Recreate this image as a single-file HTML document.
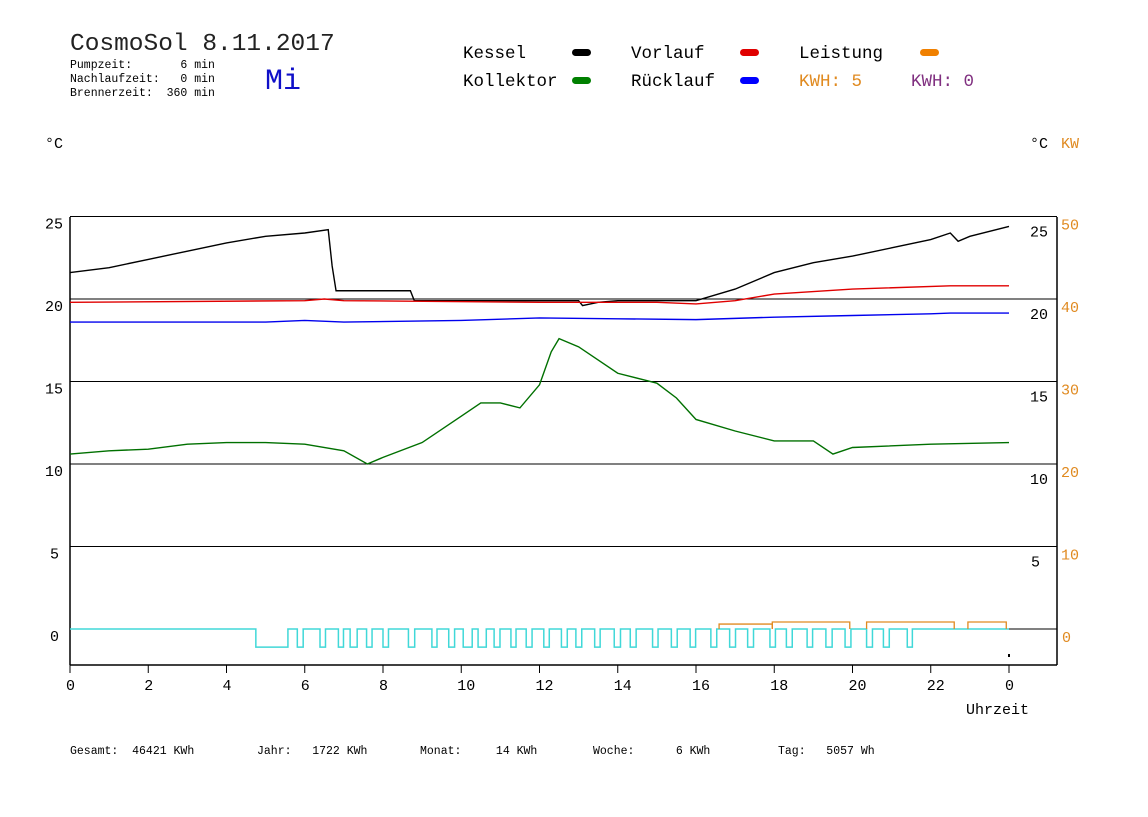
<!DOCTYPE html>
<html><head><meta charset="utf-8"><style>
body{margin:0;background:#fff;}
svg text{font-family:"Liberation Mono",monospace;white-space:pre;}
</style></head><body>
<svg id="c" width="1148" height="812" viewBox="0 0 1148 812" xml:space="preserve">
<text x="70" y="50" font-size="24.5" fill="#222">CosmoSol 8.11.2017</text>
<g font-size="11.5" fill="#000">
<text x="70" y="68">Pumpzeit:       6 min</text>
<text x="70" y="82">Nachlaufzeit:   0 min</text>
<text x="70" y="96">Brennerzeit:  360 min</text>
</g>
<text x="265" y="89" font-size="30" fill="#1010c8">Mi</text>
<g font-size="17.5">
<text x="463" y="58">Kessel</text>
<rect x="572" y="49" width="19" height="7" rx="3.5" fill="#000"/>
<text x="631" y="58">Vorlauf</text>
<rect x="740" y="49" width="19" height="7" rx="3.5" fill="#e00000"/>
<text x="799" y="58">Leistung</text>
<rect x="920" y="49" width="19" height="7" rx="3.5" fill="#f08000"/>
<text x="463" y="86">Kollektor</text>
<rect x="572" y="77" width="19" height="7" rx="3.5" fill="#008000"/>
<text x="631" y="86">Rücklauf</text>
<rect x="740" y="77" width="19" height="7" rx="3.5" fill="#0000ff"/>
<text x="799" y="86" fill="#e08a20">KWH: 5</text>
<text x="911" y="86" fill="#803080">KWH: 0</text>
</g>
<text x="45" y="148" font-size="15">°C</text>
<text x="1030" y="148" font-size="15">°C</text>
<text x="1061" y="148" font-size="15" fill="#e08a20">KW</text>
<g id="grid"></g><g id="series"></g>
<text x="966" y="714" font-size="15">Uhrzeit</text>
<g font-size="11.5">
<text x="70" y="754">Gesamt:  46421 KWh</text>
<text x="257" y="754">Jahr:   1722 KWh</text>
<text x="420" y="754">Monat:     14 KWh</text>
<text x="593" y="754">Woche:      6 KWh</text>
<text x="778" y="754">Tag:   5057 Wh</text>
</g>
</svg>
<script>
const xTicks=[0,2,4,6,8,10,12,14,16,18,20,22,24];
const xTickLabels=["0","2","4","6","8","10","12","14","16","18","20","22","0"];
const yTicks=[0,5,10,15,20,25];
const yKwTicks=[0,10,20,30,40,50];
const kessel=[[0,21.6],[1,21.9],[2,22.4],[3,22.9],[4,23.4],[5,23.8],[6,24.0],[6.6,24.2],[6.7,22],[6.8,20.5],[8.7,20.5],[8.8,19.9],[13,19.9],[13.1,19.6],[13.5,19.8],[14,19.9],[16,19.9],[17,20.6],[18,21.6],[19,22.2],[20,22.6],[21,23.1],[22,23.6],[22.5,24.0],[22.7,23.5],[23,23.8],[24,24.4]];
const vorlauf=[[0,19.8],[6,19.9],[6.5,20.0],[7,19.9],[12,19.8],[15,19.8],[16,19.7],[17,19.9],[18,20.3],[20,20.6],[22.5,20.8],[24,20.8]];
const ruecklauf=[[0,18.6],[5,18.6],[6,18.7],[7,18.6],[10,18.7],[12,18.85],[14,18.8],[16,18.75],[18,18.9],[20,19.0],[22,19.1],[22.5,19.15],[24,19.15]];
const kollektor=[[0,10.6],[1,10.8],[2,10.9],[3,11.2],[4,11.3],[5,11.3],[6,11.2],[7,10.8],[7.6,10.0],[8,10.4],[9,11.3],[10,12.9],[10.5,13.7],[11,13.7],[11.5,13.4],[12,14.8],[12.3,16.8],[12.5,17.6],[13,17.1],[14,15.5],[15,14.9],[15.5,14.0],[16,12.7],[17,12.0],[18,11.4],[19,11.4],[19.5,10.6],[20,11.0],[22,11.2],[24,11.3]];
const pumpOn=[[4.75,5.57],[5.81,5.96],[6.39,6.53],[6.86,6.99],[7.16,7.34],[7.58,7.72],[8.0,8.14],[8.65,8.81],[9.25,9.38],[9.68,9.83],[10.05,10.28],[10.43,10.64],[10.84,10.99],[11.27,11.40],[11.66,11.81],[12.11,12.25],[12.56,12.71],[12.93,13.08],[13.41,13.55],[13.91,14.07],[14.32,14.47],[14.89,15.03],[15.37,15.52],[15.85,15.99],[16.38,16.53],[16.86,17.01],[17.32,17.47],[17.89,18.03],[18.31,18.46],[18.84,18.98],[19.32,19.48],[19.81,19.96],[20.36,20.51],[20.79,20.94],[21.40,21.53]];
const leistung=[[16.59,17.95,0.6],[17.95,19.93,0.85],[20.36,22.6,0.85],[22.95,23.93,0.85]];
const NS='http://www.w3.org/2000/svg';
const X=h=>70+h*939/24, Y=v=>629-v*16.5, YK=k=>629-k*8.25;
function mk(tag,attrs,parent){const e=document.createElementNS(NS,tag);for(const k in attrs)e.setAttribute(k,attrs[k]);parent.appendChild(e);return e;}
const grid=document.getElementById('grid'), ser=document.getElementById('series');
yTicks.forEach((t,i)=>{
 const y=Y(t);
 if(t>0){const l=mk('line',{x1:70,x2:1057,y1:y,y2:y,stroke:'#000'},grid);
 
 }
 else{const l=mk('line',{x1:X(24),x2:1057,y1:y,y2:y,stroke:'#000'},grid);
 
 }
 const a=mk('text',{x:t>=10?45:50,y:y+12,'font-size':15},grid);a.textContent=t;
 
 
 if(t>0){const b=mk('text',{x:t>=10?1030:1031,y:y+20,'font-size':15},grid);b.textContent=t;
 
 }
 const k=yKwTicks[i];const c=mk('text',{x:k>=10?1061:1062,y:YK(k)+13,'font-size':15,fill:'#e08a20'},grid);c.textContent=k;
 
 
});
[[70,217,70,665],[1057,217,1057,665],[70,665,1057,665]].forEach((p,i)=>{const l=mk('line',{x1:p[0],y1:p[1],x2:p[2],y2:p[3],stroke:'#000','stroke-width':1.5},grid);
 
 });
xTicks.forEach((h,i)=>{const x=X(h);mk('line',{x1:x,x2:x,y1:665,y2:673,stroke:'#000'},grid);
 const t=mk('text',{x:x-4,y:690,'font-size':15},grid);t.textContent=xTickLabels[i];
 
 });
function linePath(d,yf){return d.map((p,i)=>(i?'L':'M')+X(p[0])+' '+yf(p[1])).join('');}
[[kessel,'#000','kessel-line'],[vorlauf,'#e00000','vorlauf-line'],[ruecklauf,'#0000ee','ruecklauf-line'],[kollektor,'#007000','kollektor-line']].forEach(s=>{
 const p=mk('path',{d:linePath(s[0],Y),fill:'none',stroke:s[1],'stroke-width':1.4},ser);
 
 });
let pd='M'+X(0)+' '+Y(0);
pumpOn.forEach(p=>{pd+='H'+X(p[0])+'V'+Y(-1.1)+'H'+X(p[1])+'V'+Y(0);});
pd+='H'+X(24);
const pp=mk('path',{d:pd,fill:'none',stroke:'#40d8d8','stroke-width':1.5},ser);


leistung.forEach((s,i)=>{const p=mk('path',{d:'M'+X(s[0])+' '+YK(0)+'V'+YK(s[2])+'H'+X(s[1])+'V'+YK(0),fill:'none',stroke:'#e08a20','stroke-width':1.3},ser);
 
 });
const dot=mk('rect',{x:X(24)-1,y:654,width:2,height:3,fill:'#000'},ser);


</script>
</body></html>
